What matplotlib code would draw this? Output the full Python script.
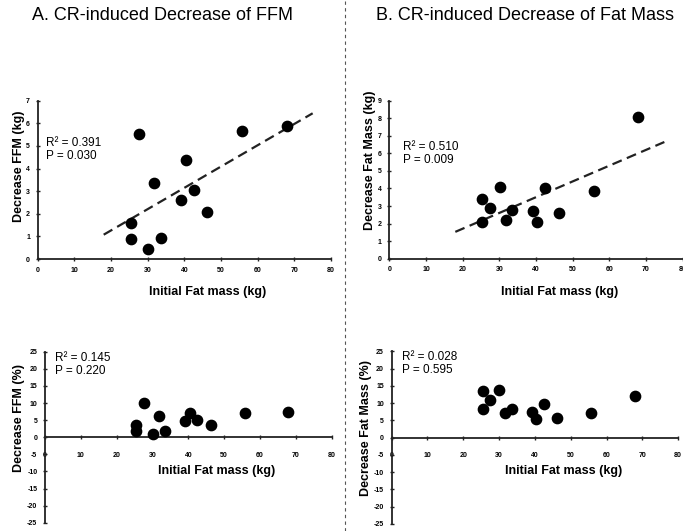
import numpy as np
import matplotlib
matplotlib.use('Agg')
import matplotlib.pyplot as plt

# initial fat mass (kg), shared by all four panels
fat_mass = [25.4, 25.4, 27.5, 30.1, 31.7, 33.5, 39.2, 40.4, 42.5, 46.2, 55.8, 67.9]

ffm_kg = [0.90, 1.60, 5.53, 0.46, 3.34, 0.91, 2.60, 4.38, 3.04, 2.10, 5.65, 5.90]
fm_kg = [2.09, 3.40, 2.90, 4.10, 2.18, 2.75, 2.73, 2.09, 4.04, 2.60, 3.83, 8.05]
ffm_pct = [1.95, 3.7, 9.93, 0.97, 6.13, 1.85, 4.87, 7.2, 4.97, 3.7, 7.2, 7.3]
fm_pct = [8.4, 13.4, 10.9, 13.8, 7.0, 8.4, 7.3, 5.4, 9.6, 5.7, 7.0, 12.0]

fit_range = [18, 75]

plt.rcParams['font.family'] = ['Liberation Sans', 'DejaVu Sans']
plt.rcParams['axes.unicode_minus'] = False

fig = plt.figure(figsize=(6.83, 5.31), dpi=100)
W, H = 683, 531


def add_ax(x0, x1, ytop, ybot):
    return fig.add_axes([x0 / W, 1 - ybot / H, (x1 - x0) / W, (ybot - ytop) / H])


def style(ax, ymin, ymax, ystep, pct):
    ax.set_xlim(0, 80)
    ax.set_ylim(ymin, ymax)
    ax.set_xticks(range(0, 81, 10))
    ax.set_yticks(np.arange(ymin, ymax + 0.1, ystep))
    for s in ['top', 'right']:
        ax.spines[s].set_visible(False)
    for s in ['left', 'bottom']:
        ax.spines[s].set_linewidth(1.3)
        ax.spines[s].set_color('#222222')
    if pct:
        ax.spines['bottom'].set_position(('data', 0))
    ax.tick_params(direction='inout', length=3, width=1, color='#222222',
                   labelsize=5, pad=4 if not pct else 9)
    for lab in ax.get_xticklabels() + ax.get_yticklabels():
        lab.set_fontweight('bold')
    ax.tick_params(axis='y', pad=4)
    ax.patch.set_alpha(0)


def panel(ax, y, ylab, trend):
    ax.scatter(fat_mass, y, s=55, color='black', zorder=3, clip_on=False)
    if trend:
        k, b = np.polyfit(fat_mass, y, 1)
        xs = np.array(fit_range)
        ax.plot(xs, k * xs + b, color='#222222', lw=1.6, linestyle=(0, (4.5, 2.5)))
    ax.set_ylabel(ylab, fontsize=9, fontweight='bold')


# top left
ax1 = add_ax(37.7, 331, 100.7, 259)
style(ax1, 0, 7, 1, False)
panel(ax1, ffm_kg, 'Decrease FFM (kg)', True)
ax1.yaxis.set_label_coords(-0.045, 0.587)
ax1.text(0.03, 0.77, 'R\u00b2 = 0.391\nP = 0.030', transform=ax1.transAxes,
         fontsize=8.5, va='top', linespacing=1.1)
ax1.set_xlabel('Initial Fat mass (kg)', fontsize=9, fontweight='bold')
ax1.xaxis.set_label_coords(0.58, -0.17)

# top right
ax2 = add_ax(389.3, 682.7, 100.7, 258.7)
style(ax2, 0, 9, 1, False)
panel(ax2, fm_kg, 'Decrease Fat Mass (kg)', True)
ax2.yaxis.set_label_coords(-0.045, 0.625)
ax2.text(0.045, 0.745, 'R\u00b2 = 0.510\nP = 0.009', transform=ax2.transAxes,
         fontsize=8.5, va='top', linespacing=1.1)
ax2.set_xlabel('Initial Fat mass (kg)', fontsize=9, fontweight='bold')
ax2.xaxis.set_label_coords(0.58, -0.17)

# bottom left
ax3 = add_ax(45, 331.7, 351.7, 522.7)
style(ax3, -25, 25, 5, True)
panel(ax3, ffm_pct, 'Decrease FFM (%)', False)
ax3.yaxis.set_label_coords(-0.07, 0.61)
ax3.text(0.035, 1.0, 'R\u00b2 = 0.145\nP = 0.220', transform=ax3.transAxes,
         fontsize=8.5, va='top', linespacing=1.1)
ax3.text(0.6, 0.305, 'Initial Fat mass (kg)', transform=ax3.transAxes,
         fontsize=9, fontweight='bold', ha='center', va='center')

# bottom right
ax4 = add_ax(391.7, 678.1, 351.3, 524)
style(ax4, -25, 25, 5, True)
panel(ax4, fm_pct, 'Decrease Fat Mass (%)', False)
ax4.yaxis.set_label_coords(-0.07, 0.556)
ax4.text(0.035, 1.0, 'R\u00b2 = 0.028\nP = 0.595', transform=ax4.transAxes,
         fontsize=8.5, va='top', linespacing=1.1)
ax4.text(0.6, 0.305, 'Initial Fat mass (kg)', transform=ax4.transAxes,
         fontsize=9, fontweight='bold', ha='center', va='center')

# panel titles and separator
fig.text(163 / W, 1 - 16 / H, 'A. CR-induced Decrease of FFM', fontsize=13,
         ha='center', va='center')
fig.text(525 / W, 1 - 16 / H, 'B. CR-induced Decrease of Fat Mass', fontsize=13,
         ha='center', va='center')
fig.add_artist(plt.Line2D([345 / W, 345 / W], [0, 1], color='#555555', lw=0.8,
                          linestyle=(0, (3, 3))))

fig.savefig('out.png', dpi=100)
